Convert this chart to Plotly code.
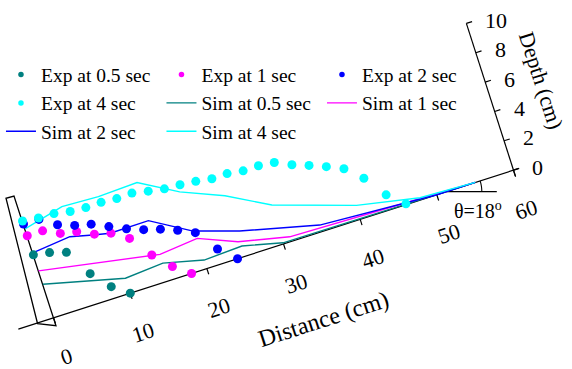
import math
import plotly.graph_objects as go

W, H = 572, 369

# ---- experimental bed profiles: distance along the slope (cm) / depth (cm)
exp_dist_05 = [0, 2, 4, 6, 8, 10]
exp_depth_05 = [4.29, 4.11, 3.79, 2.00, 0.78, 0.00]

exp_dist_1 = [0, 2, 4, 6, 8, 10, 12, 14, 16, 18]
exp_depth_1 = [5.59, 5.59, 5.08, 4.86, 4.36, 4.09, 3.40, 1.93, 0.81, 0.00]

exp_dist_2 = [0, 2, 4, 6, 8, 10, 12, 14, 16, 18, 20, 22, 24]
exp_depth_2 = [6.39, 6.37, 5.67, 5.29, 5.04, 4.54, 4.05, 3.66, 3.36, 2.95, 2.45, 1.00, 0.00]

exp_dist_4 = [0, 2, 4, 6, 8, 10, 12, 14, 16, 18, 20, 22, 24, 26, 28, 30, 32, 34,
              36, 38, 40, 42, 44, 46]
exp_depth_4 = [6.60, 6.47, 6.43, 6.24, 6.17, 6.19, 6.11, 6.15, 5.95, 5.77, 5.71, 5.61,
               5.45, 5.47, 5.32, 5.33, 5.22, 4.73, 4.35, 3.93, 3.45, 2.47, 1.00, 0.05]

# ---- simulated profiles
sim_dist_05 = [0, 10, 15, 20, 25, 30, 55]
sim_depth_05 = [2.29, 1.02, 1.21, 0.58, 0.70, 0.08, 0.00]

sim_dist_1 = [0, 13.8, 15, 20, 24.7, 31, 40, 48.7, 55]
sim_depth_1 = [3.20, 1.91, 1.81, 2.06, 1.04, 0.32, 0.22, 0.08, 0.00]

sim_dist_2 = [0, 5, 7.8, 9.9, 14.9, 19.8, 25.3, 35, 50, 55]
sim_depth_2 = [4.43, 4.69, 4.33, 4.10, 4.12, 2.59, 1.67, 0.45, 0.00, 0.00]

sim_dist_4 = [0, 5.2, 9.9, 15, 19.7, 24.9, 30.1, 40.1, 47.9, 55]
sim_depth_4 = [6.06, 6.70, 6.60, 6.70, 5.28, 4.14, 2.64, 0.94, 0.15, 0.00]

# ---- axis ticks
dist_ticks = [0, 10, 20, 30, 40, 50, 60]
depth_ticks = [0, 2, 4, 6, 8, 10]

# ---- inclined frame: distance axis tilted by the bed slope, depth perpendicular
SLOPE_DEG = 17.8
ANG = math.radians(SLOPE_DEG)
ORIGIN = (53.6, 317.8)      # pixel position of distance 0 / depth 0
S_DIST = 8.05               # px per cm along the slope
S_DEPTH = 15.41             # px per cm normal to the slope
CA, SA = math.cos(ANG), math.sin(ANG)
NORMAL_DOWN = (SA, CA)      # unit vector pointing below the bed line
ALONG = (CA, -SA)           # unit vector pointing up the slope


def to_px(d, h):
    x = ORIGIN[0] + d * S_DIST * CA - h * S_DEPTH * SA
    y = ORIGIN[1] - d * S_DIST * SA - h * S_DEPTH * CA
    return x, y


def project(dists, depths):
    pts = [to_px(d, h) for d, h in zip(dists, depths)]
    return [p[0] for p in pts], [p[1] for p in pts]


FONT = "Liberation Serif"
TEAL, MAGENTA, BLUE, CYAN = "#008080", "#ff00ff", "#0000ff", "#00ffff"

fig = go.Figure()
shapes = []


def seg(p, q, width=1.2):
    shapes.append(dict(type="line", xref="x", yref="y", x0=p[0], y0=p[1],
                       x1=q[0], y1=q[1], line=dict(color="black", width=width),
                       layer="below"))


# distance axis with outward ticks
seg(to_px(-4.6, 0), to_px(60.6, 0))
for t in dist_ticks:
    p = to_px(t, 0)
    seg(p, (p[0] + 6 * NORMAL_DOWN[0], p[1] + 6 * NORMAL_DOWN[1]))

# depth axis at the far end, ticks pointing up the slope
seg(to_px(60, -0.45), to_px(60, 10))
for t in depth_ticks:
    p = to_px(60, t)
    seg(p, (p[0] + 6 * ALONG[0], p[1] + 6 * ALONG[1]))

# end wall of the flume
wall = [to_px(-2.12, -0.05), to_px(-1.09, 8.33), to_px(-0.06, 8.31), to_px(-0.02, -0.54)]
path = "M" + " L".join(f"{x:.2f},{y:.2f}" for x, y in wall) + " Z"
shapes.append(dict(type="path", xref="x", yref="y", path=path,
                   line=dict(color="black", width=1.3), layer="below"))

# slope angle marker
vx, vy = to_px(51.3, 0)
seg((vx, vy), (vx + 50, vy))
R = 35
arc = [(vx + R * math.cos(math.radians(a)), vy - R * math.sin(math.radians(a)))
       for a in [i * SLOPE_DEG / 12 for i in range(13)]]
shapes.append(dict(type="path", xref="x", yref="y",
                   path="M" + " L".join(f"{x:.2f},{y:.2f}" for x, y in arc),
                   line=dict(color="black", width=1.1), layer="below"))

# simulated profiles (lines)
for dd, hh, col in [(sim_dist_05, sim_depth_05, TEAL), (sim_dist_1, sim_depth_1, MAGENTA),
                    (sim_dist_2, sim_depth_2, BLUE), (sim_dist_4, sim_depth_4, CYAN)]:
    xs, ys = project(dd, hh)
    fig.add_trace(go.Scatter(x=xs, y=ys, mode="lines", line=dict(color=col, width=1.4),
                             showlegend=False, hoverinfo="skip"))

# experimental profiles (dots)
for dd, hh, col in [(exp_dist_05, exp_depth_05, TEAL), (exp_dist_1, exp_depth_1, MAGENTA),
                    (exp_dist_2, exp_depth_2, BLUE), (exp_dist_4, exp_depth_4, CYAN)]:
    xs, ys = project(dd, hh)
    fig.add_trace(go.Scatter(x=xs, y=ys, mode="markers",
                             marker=dict(color=col, size=9, line=dict(width=0)),
                             showlegend=False, hoverinfo="skip"))

# legend entries
for name, col in [("Exp at 0.5 sec", TEAL), ("Exp at 1 sec", MAGENTA),
                  ("Exp at 2 sec", BLUE), ("Exp at 4 sec", CYAN)]:
    fig.add_trace(go.Scatter(x=[None], y=[None], mode="markers", name=name,
                             marker=dict(color=col, size=5.5, line=dict(width=0))))
for name, col in [("Sim at 0.5 sec", TEAL), ("Sim at 1 sec", MAGENTA),
                  ("Sim at 2 sec", BLUE), ("Sim at 4 sec", CYAN)]:
    fig.add_trace(go.Scatter(x=[None], y=[None], mode="lines", name=name,
                             line=dict(color=col, width=1.4)))

annotations = []
# distance tick labels, tilted with the bed
for t in dist_ticks:
    x, y = to_px(t, 0)
    annotations.append(dict(x=x + 41 * NORMAL_DOWN[0], y=y + 41 * NORMAL_DOWN[1],
                            text=str(t), textangle=-SLOPE_DEG, showarrow=False,
                            xanchor="center", yanchor="middle", borderpad=0,
                            font=dict(family=FONT, size=22, color="black")))
# depth tick labels
for t in depth_ticks:
    x, y = to_px(60, t)
    annotations.append(dict(x=x + 17, y=y - 3, text=str(t), showarrow=False,
                            xanchor="left", yanchor="middle",
                            font=dict(family=FONT, size=22, color="black")))
# axis titles
tx, ty = to_px(31.9, 0)
annotations.append(dict(x=tx + 84 * NORMAL_DOWN[0], y=ty + 84 * NORMAL_DOWN[1],
                        text="Distance (cm)", textangle=-SLOPE_DEG, showarrow=False,
                        xanchor="center", yanchor="middle",
                        font=dict(family=FONT, size=24, color="black")))
dx, dy = to_px(66.7, 5.0)
annotations.append(dict(x=dx, y=dy, text="Depth (cm)", textangle=90 - SLOPE_DEG,
                        showarrow=False, xanchor="center", yanchor="middle",
                        font=dict(family=FONT, size=22, color="black")))
annotations.append(dict(x=vx + 31, y=vy + 18, text="θ=18<sup>o</sup>", showarrow=False,
                        xanchor="center", yanchor="middle",
                        font=dict(family=FONT, size=20, color="black")))
for a in annotations:
    a.update(xref="x", yref="y")

fig.update_layout(
    width=W, height=H,
    margin=dict(l=0, r=0, t=0, b=0),
    paper_bgcolor="white", plot_bgcolor="white",
    xaxis=dict(range=[0, W], visible=False, fixedrange=True),
    yaxis=dict(range=[H, 0], visible=False, fixedrange=True),
    shapes=shapes,
    annotations=annotations,
    showlegend=True,
    legend=dict(orientation="h", x=0.0017, y=0.85, xanchor="left", yanchor="top",
                entrywidth=115.5, entrywidthmode="pixels",
                font=dict(family=FONT, size=19.5, color="black"),
                bgcolor="rgba(0,0,0,0)", itemclick=False, itemdoubleclick=False),
)

fig.write_html("out.html")
